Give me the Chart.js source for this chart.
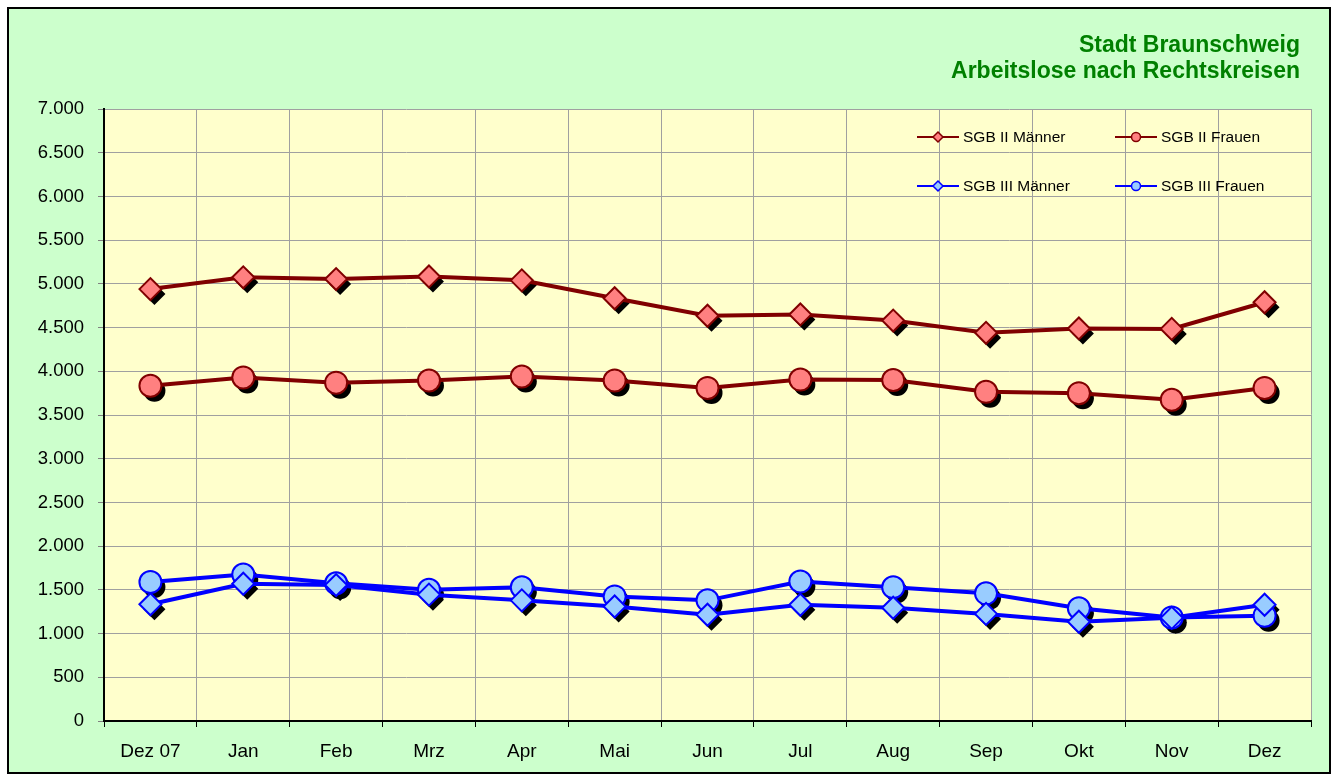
<!DOCTYPE html>
<html>
<head>
<meta charset="utf-8">
<script src="https://cdn.jsdelivr.net/npm/chart.js"></script>
<style>
  html, body { margin: 0; padding: 0; background: #fff; }
  #frame {
    position: absolute; left: 7px; top: 7px; width: 1324px; height: 767px;
    background: #CCFFCC; border: 2px solid #000; box-sizing: border-box;
  }
  #wrap { position: absolute; left: 0; top: 0; width: 1335px; height: 778px; }
</style>
</head>
<body>
<div id="frame"></div>
<div id="wrap"><canvas id="chart" width="1335" height="778"></canvas></div>
<script>
const months = ['Dez 07', 'Jan', 'Feb', 'Mrz', 'Apr', 'Mai', 'Jun', 'Jul', 'Aug', 'Sep', 'Okt', 'Nov', 'Dez']
const sgb2Maenner = [4940, 5075, 5055, 5085, 5040, 4835, 4635, 4650, 4580, 4440, 4490, 4485, 4790]
const sgb2Frauen = [3835, 3930, 3870, 3895, 3940, 3895, 3810, 3905, 3900, 3765, 3750, 3675, 3810]
const sgb3Maenner = [1335, 1570, 1555, 1445, 1380, 1310, 1215, 1330, 1295, 1225, 1135, 1180, 1330]
const sgb3Frauen = [1590, 1675, 1575, 1500, 1530, 1425, 1380, 1595, 1530, 1460, 1290, 1185, 1205]
const titleLines = ['Stadt Braunschweig', 'Arbeitslose nach Rechtskreisen']

const dkRed = '#800000'
const blue = '#0000FF'
const fontFam = '"Liberation Sans", Arial, sans-serif'

function makeSet(label, data, color, fill, style) {
  return {
    label: label,
    data: data,
    borderColor: color,
    backgroundColor: fill,
    borderWidth: 4,
    pointStyle: style,
    pointRadius: 11,
    pointHoverRadius: 11,
    pointBorderWidth: 2,
    pointBorderColor: color,
    pointBackgroundColor: fill,
    tension: 0,
  }
}

function shape(ctx, style, x, y, r) {
  ctx.beginPath()
  if (style === 'circle') {
    ctx.arc(x, y, r, 0, Math.PI * 2)
  } else {
    ctx.moveTo(x - r, y)
    ctx.lineTo(x, y - r)
    ctx.lineTo(x + r, y)
    ctx.lineTo(x, y + r)
    ctx.closePath()
  }
}

// schwarzer Schatten unter den Markern (wie in Excel)
const shadowPlugin = {
  id: 'shadows',
  beforeDatasetsDraw(chart) {
    const ctx = chart.ctx
    ctx.save()
    ctx.fillStyle = '#000'
    chart.data.datasets.forEach((ds, i) => {
      chart.getDatasetMeta(i).data.forEach((p) => {
        shape(ctx, ds.pointStyle, p.x + 4, p.y + 5, ds.pointRadius)
        ctx.fill()
      })
    })
    ctx.restore()
  },
}

const decoPlugin = {
  id: 'deco',
  afterDraw(chart) {
    const ctx = chart.ctx
    ctx.save()
    // Titel
    ctx.fillStyle = '#008000'
    ctx.font = 'bold 23px ' + fontFam
    ctx.textAlign = 'right'
    ctx.textBaseline = 'middle'
    ctx.fillText(titleLines[0], 1300, 46)
    ctx.fillText(titleLines[1], 1300, 72)

    // Legende
    const pos = [
      [917, 137], [1115, 137],
      [917, 186], [1115, 186],
    ]
    chart.data.datasets.forEach((ds, i) => {
      const [x, y] = pos[i]
      ctx.strokeStyle = ds.borderColor
      ctx.lineWidth = 2
      ctx.beginPath()
      ctx.moveTo(x, y)
      ctx.lineTo(x + 42, y)
      ctx.stroke()
      shape(ctx, ds.pointStyle, x + 21, y, ds.pointStyle === 'circle' ? 4.5 : 5)
      ctx.fillStyle = ds.pointBackgroundColor
      ctx.fill()
      ctx.lineWidth = 1.5
      ctx.stroke()
      ctx.fillStyle = '#000'
      ctx.font = '15.5px ' + fontFam
      ctx.textAlign = 'left'
      ctx.textBaseline = 'middle'
      ctx.fillText(ds.label, x + 46, y + 1)
    })
    ctx.restore()
  },
}

const plotBg = {
  id: 'plotBg',
  beforeDraw(chart) {
    const a = chart.chartArea
    chart.ctx.save()
    chart.ctx.fillStyle = '#FFFFCC'
    chart.ctx.fillRect(a.left, a.top, a.right - a.left, a.bottom - a.top)
    chart.ctx.restore()
  },
}

const ctx = document.getElementById('chart').getContext('2d')
new Chart(ctx, {
  type: 'line',
  data: {
    labels: months,
    datasets: [
      makeSet('SGB II Männer', sgb2Maenner, dkRed, '#FF8080', 'rectRot'),
      makeSet('SGB II Frauen', sgb2Frauen, dkRed, '#FF8080', 'circle'),
      makeSet('SGB III Männer', sgb3Maenner, blue, '#99CCFF', 'rectRot'),
      makeSet('SGB III Frauen', sgb3Frauen, blue, '#99CCFF', 'circle'),
    ],
  },
  options: {
    responsive: false,
    animation: false,
    events: [],
    layout: { padding: { top: 109, right: 24, bottom: 0, left: 0 } },
    plugins: {
      legend: { display: false },
      title: { display: false },
      tooltip: { enabled: false },
    },
    scales: {
      x: {
        offset: true,
        grid: { offset: true, color: '#A0A0A0', tickColor: '#000', tickLength: 6, lineWidth: 1 },
        border: { color: '#000', width: 2 },
        ticks: {
          color: '#000',
          padding: 13,
          maxRotation: 0,
          font: { family: fontFam, size: 19 },
        },
        afterFit(scale) { scale.height = 57 },
      },
      y: {
        min: 0,
        max: 7000,
        ticks: {
          stepSize: 500,
          color: '#000',
          padding: 14,
          font: { family: fontFam, size: 18.5 },
          callback: (v) => String(v).replace(/\B(?=(\d{3})+(?!\d))/g, '.'),
        },
        grid: { color: '#A0A0A0', tickColor: '#808080', tickLength: 6, lineWidth: 1 },
        border: { color: '#000', width: 2 },
        afterFit(scale) { scale.width = 104 },
      },
    },
  },
  plugins: [plotBg, shadowPlugin, decoPlugin],
})
</script>
</body>
</html>
